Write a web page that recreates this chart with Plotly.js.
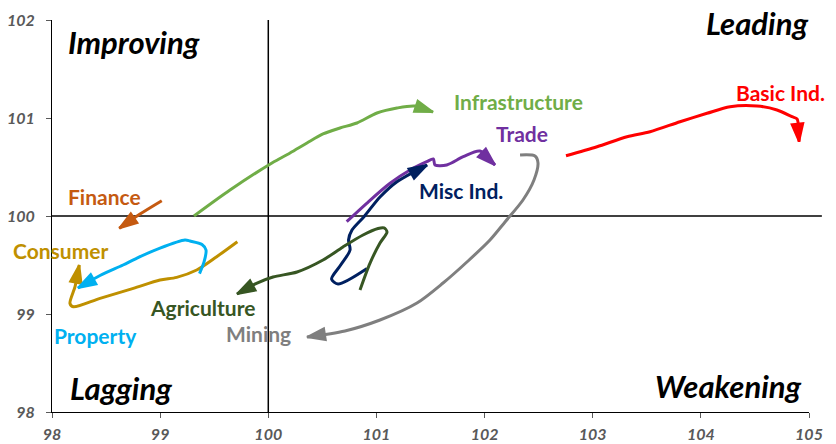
<!DOCTYPE html>
<html>
<head>
<meta charset="utf-8">
<script src="https://cdn.plot.ly/plotly-3.0.1.min.js"></script>
<style>html,body{margin:0;padding:0;background:#fff;}#chart{width:836px;height:444px;}</style>
</head>
<body>
<div id="chart"></div>
<script>
// ---- data (RRG-style sector rotation) ----
const sectorNames = ["Finance","Consumer","Property","Infrastructure","Trade","Misc Ind.","Agriculture","Mining","Basic Ind."];
const sectorColors = ["#C55A11","#BF9000","#00B0F0","#70AD47","#7030A0","#002060","#375623","#7F7F7F","#FF0000"];

const financeX = [99.015, 98.814, 98.622];
const financeY = [100.156, 100.020, 99.874];

const consumerX = [99.714, 99.523, 99.338, 99.153, 98.999, 98.752, 98.444, 98.197, 98.166, 98.213, 98.252];
const consumerY = [99.738, 99.585, 99.449, 99.374, 99.347, 99.262, 99.160, 99.074, 99.109, 99.279, 99.500];

const propertyX = [99.364, 99.406, 99.424, 99.387, 99.276, 99.230, 98.999, 98.786, 98.657, 98.444, 98.240];
const propertyY = [99.413, 99.531, 99.653, 99.709, 99.745, 99.755, 99.673, 99.571, 99.500, 99.393, 99.265];

const infraX = [99.313, 99.646, 100.034, 100.201, 100.358, 100.506, 100.663, 100.820, 101.005, 101.190, 101.357, 101.523];
const infraY = [100.000, 100.265, 100.541, 100.643, 100.745, 100.837, 100.898, 100.949, 101.051, 101.102, 101.122, 101.061];

const tradeX = [100.725, 100.910, 101.126, 101.311, 101.465, 101.526, 101.542, 101.650, 101.803, 101.958, 102.096];
const tradeY = [99.942, 100.130, 100.334, 100.469, 100.554, 100.582, 100.520, 100.520, 100.605, 100.663, 100.520];

const miscX = [100.913, 100.645, 100.585, 100.663, 100.756, 100.742, 100.774, 100.885, 101.033, 101.190, 101.468];
const miscY = [99.464, 99.306, 99.357, 99.490, 99.653, 99.755, 99.857, 99.993, 100.194, 100.350, 100.520];

const agriX = [100.848, 100.941, 101.033, 101.098, 101.070, 101.015, 100.876, 100.691, 100.506, 100.266, 100.044, 99.896, 99.711];
const agriY = [99.245, 99.520, 99.724, 99.837, 99.878, 99.872, 99.806, 99.684, 99.551, 99.429, 99.378, 99.316, 99.204];

const miningX = [102.328, 102.466, 102.494, 102.457, 102.355, 102.189, 102.050, 101.847, 101.616, 101.375, 101.033, 100.709, 100.358];
const miningY = [100.622, 100.612, 100.541, 100.367, 100.163, 99.939, 99.755, 99.541, 99.316, 99.112, 98.939, 98.827, 98.765];

const basicX = [102.753, 103.040, 103.317, 103.530, 103.807, 104.057, 104.270, 104.519, 104.704, 104.843, 104.889, 104.908];
const basicY = [100.615, 100.707, 100.809, 100.860, 100.962, 101.048, 101.115, 101.122, 101.082, 101.013, 100.990, 100.758];

const seriesX = [financeX, consumerX, propertyX, infraX, tradeX, miscX, agriX, miningX, basicX];
const seriesY = [financeY, consumerY, propertyY, infraY, tradeY, miscY, agriY, miningY, basicY];

const xTicks = [98, 99, 100, 101, 102, 103, 104, 105];
const yTicks = [98, 99, 100, 101, 102];
const centerValue = 100;

const quadrantNames = ["Improving", "Leading", "Lagging", "Weakening"];

// ---- layout helpers ----
const labelPos = [
  [98.490, 100.204], [98.083, 99.643], [98.398, 98.776], [102.318, 101.173],
  [102.346, 100.837], [101.782, 100.265], [99.396, 99.071], [99.905, 98.806], [104.732, 101.265]
];
const quadPos = [[98.758, 101.776], [104.519, 101.969], [98.638, 98.245], [104.260, 98.265]];

const FONT = "Lato, 'Open Sans', 'DejaVu Sans', sans-serif";

const traces = sectorNames.map((name, i) => {
  const n = seriesX[i].length;
  const sizes = seriesX[i].map((_, k) => k === n - 1 ? 19 : 0);
  return {
    type: "scatter",
    mode: "lines+markers",
    name: name,
    x: seriesX[i],
    y: seriesY[i],
    line: {color: sectorColors[i], width: 3, shape: "spline", smoothing: 0.8},
    marker: {symbol: "arrow", angleref: "previous", size: sizes, color: sectorColors[i], opacity: 1,
             line: {width: 2, color: sectorColors[i]}},
    hoverinfo: "skip",
    showlegend: false
  };
});

const annotations = [];
sectorNames.forEach((name, i) => {
  annotations.push({
    x: labelPos[i][0], y: labelPos[i][1], xref: "x", yref: "y",
    text: name, showarrow: false, xanchor: "center", yanchor: "middle",
    font: {family: FONT, size: 21, color: sectorColors[i], weight: "bold"}
  });
});
quadrantNames.forEach((q, i) => {
  annotations.push({
    x: quadPos[i][0], y: quadPos[i][1], xref: "x", yref: "y",
    text: q, showarrow: false, xanchor: "center", yanchor: "middle",
    font: {family: FONT, size: 31, color: "#000000", weight: "bold", style: "italic"}
  });
});

const tickFont = {family: FONT, size: 16, color: "#595959", weight: "bold", style: "italic"};

const layout = {
  width: 836, height: 444,
  margin: {l: 52, r: 27, t: 20, b: 32, pad: 0},
  paper_bgcolor: "#ffffff", plot_bgcolor: "#ffffff",
  showlegend: false,
  xaxis: {
    range: [98, 105], tickvals: xTicks, ticktext: xTicks.map(String),
    showgrid: false, zeroline: false, showline: true, linecolor: "#000000", linewidth: 1,
    ticks: "outside", ticklen: 5, tickcolor: "#595959", tickwidth: 1,
    tickfont: tickFont, ticklabelstandoff: 3, fixedrange: true
  },
  yaxis: {
    range: [98, 102], tickvals: yTicks, ticktext: yTicks.map(String),
    showgrid: false, zeroline: false, showline: true, linecolor: "#000000", linewidth: 1,
    ticks: "outside", ticklen: 5, tickcolor: "#595959", tickwidth: 1,
    tickfont: tickFont, ticklabelstandoff: 8, fixedrange: true
  },
  shapes: [
    {type: "line", xref: "x", yref: "paper", x0: centerValue, x1: centerValue, y0: 0, y1: 1,
     line: {color: "#000000", width: 1.5}, layer: "below"},
    {type: "line", xref: "paper", yref: "y", x0: 0, x1: 1.017, y0: centerValue, y1: centerValue,
     line: {color: "#000000", width: 1.5}, layer: "below"}
  ],
  annotations: annotations
};

Plotly.newPlot("chart", traces, layout, {displayModeBar: false, staticPlot: true});
</script>
</body>
</html>
